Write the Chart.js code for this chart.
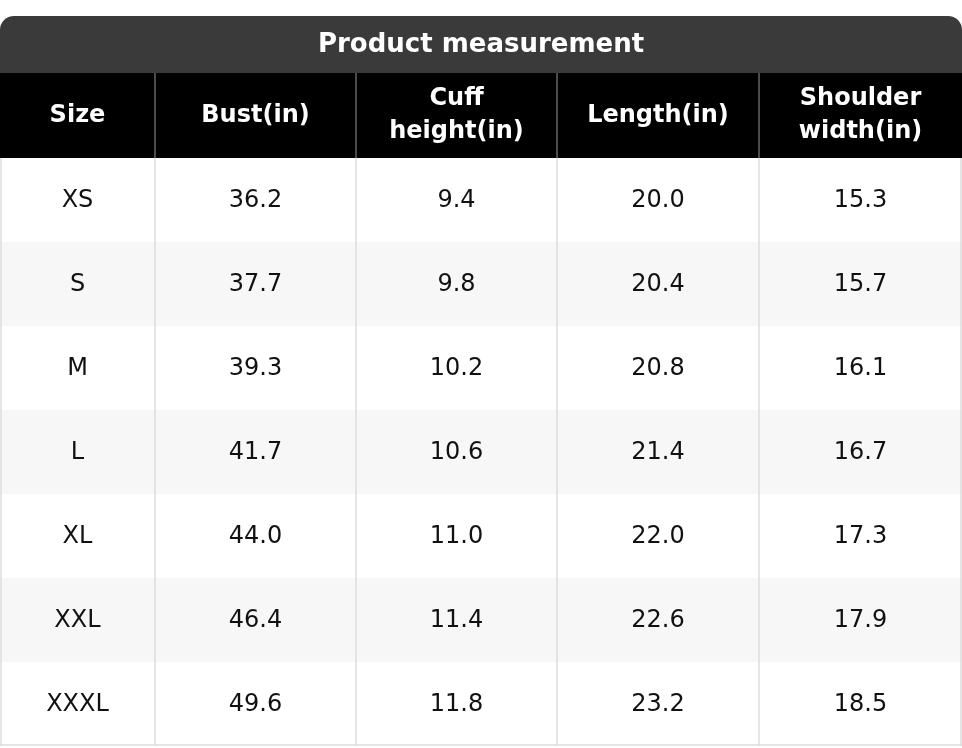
<!DOCTYPE html>
<html><head><meta charset="utf-8">
<script src="https://cdn.jsdelivr.net/npm/chart.js@4"></script>
<style>html,body{margin:0;padding:0;background:#fff}#c{display:block}</style>
</head><body>
<canvas id="c" width="962" height="748"></canvas>
<script>
const title = "Product measurement";
const headers = ["Size", "Bust(in)", "Cuff\nheight(in)", "Length(in)", "Shoulder\nwidth(in)"];
const sizes = ["XS", "S", "M", "L", "XL", "XXL", "XXXL"];
const bust = ["36.2", "37.7", "39.3", "41.7", "44.0", "46.4", "49.6"];
const cuff = ["9.4", "9.8", "10.2", "10.6", "11.0", "11.4", "11.8"];
const lengthIn = ["20.0", "20.4", "20.8", "21.4", "22.0", "22.6", "23.2"];
const shoulder = ["15.3", "15.7", "16.1", "16.7", "17.3", "17.9", "18.5"];

const columns = [sizes, bust, cuff, lengthIn, shoulder];
// layout (pixel units in the x/y scales)
const colEdges = [0, 155, 356, 557, 759, 962];
const TOP = 16, TITLE_H = 57, HEAD_H = 85, ROW_H = 84;

const tablePlugin = {
  id: 'table',
  afterDraw(chart) {
    const ctx = chart.ctx, xs = chart.scales.x, ys = chart.scales.y;
    const X = v => xs.getPixelForValue(v), Y = v => ys.getPixelForValue(v);
    ctx.save();
    // title bar
    const r = 14;
    ctx.fillStyle = '#3a3a3a';
    ctx.beginPath();
    ctx.moveTo(X(0), Y(TOP + TITLE_H));
    ctx.lineTo(X(0), Y(TOP) + r);
    ctx.arcTo(X(0), Y(TOP), X(0) + r, Y(TOP), r);
    ctx.lineTo(X(962) - r, Y(TOP));
    ctx.arcTo(X(962), Y(TOP), X(962), Y(TOP) + r, r);
    ctx.lineTo(X(962), Y(TOP + TITLE_H));
    ctx.closePath(); ctx.fill();
    ctx.fillStyle = '#fff';
    ctx.font = 'bold 26px "DejaVu Sans"';
    ctx.textAlign = 'center'; ctx.textBaseline = 'middle';
    ctx.fillText(title, X(481), Y(TOP + TITLE_H / 2) + 1);
    // header
    const hTop = TOP + TITLE_H;
    ctx.fillStyle = '#000';
    ctx.fillRect(X(0), Y(hTop), X(962) - X(0), HEAD_H);
    ctx.font = 'bold 24px "DejaVu Sans"';
    ctx.fillStyle = '#fff';
    headers.forEach((h, i) => {
      const cx = X((colEdges[i] + colEdges[i + 1]) / 2);
      const lines = h.split('\n');
      const cy = Y(hTop + HEAD_H / 2);
      lines.forEach((l, k) => ctx.fillText(l, cx, cy + (k - (lines.length - 1) / 2) * 33));
    });
    ctx.strokeStyle = '#666'; ctx.lineWidth = 1.5;
    for (let i = 1; i < colEdges.length - 1; i++) {
      ctx.beginPath(); ctx.moveTo(X(colEdges[i]), Y(hTop)); ctx.lineTo(X(colEdges[i]), Y(hTop + HEAD_H)); ctx.stroke();
    }
    // rows
    const bTop = hTop + HEAD_H;
    sizes.forEach((s, r2) => {
      const y0 = bTop + r2 * ROW_H;
      ctx.fillStyle = r2 % 2 ? '#f7f7f7' : '#ffffff';
      ctx.fillRect(X(0), Y(y0), X(962) - X(0), ROW_H);
    });
    ctx.strokeStyle = '#dddddd'; ctx.lineWidth = 1.5;
    const bEnd = bTop + sizes.length * ROW_H;
    for (let i = 0; i < colEdges.length; i++) {
      const x = Math.min(Math.max(X(colEdges[i]), 1), 961);
      ctx.beginPath(); ctx.moveTo(x, Y(bTop)); ctx.lineTo(x, Y(bEnd)); ctx.stroke();
    }
    ctx.beginPath(); ctx.moveTo(X(0), Y(bEnd) - 1); ctx.lineTo(X(962), Y(bEnd) - 1); ctx.stroke();
    ctx.fillStyle = '#111';
    ctx.font = '24px "DejaVu Sans"';
    columns.forEach((col, i) => {
      const cx = X((colEdges[i] + colEdges[i + 1]) / 2);
      col.forEach((v, r2) => ctx.fillText(v, cx, Y(bTop + r2 * ROW_H + ROW_H / 2) + 1));
    });
    ctx.restore();
  }
};

new Chart(document.getElementById('c'), {
  type: 'scatter',
  data: { datasets: [{ data: [] }] },
  options: {
    responsive: false, animation: false, devicePixelRatio: 1,
    layout: { padding: 0 },
    plugins: { legend: { display: false }, tooltip: { enabled: false } },
    scales: {
      x: { type: 'linear', min: 0, max: 962, display: false },
      y: { type: 'linear', min: 0, max: 748, reverse: true, display: false }
    }
  },
  plugins: [tablePlugin]
});
</script>
</body></html>
